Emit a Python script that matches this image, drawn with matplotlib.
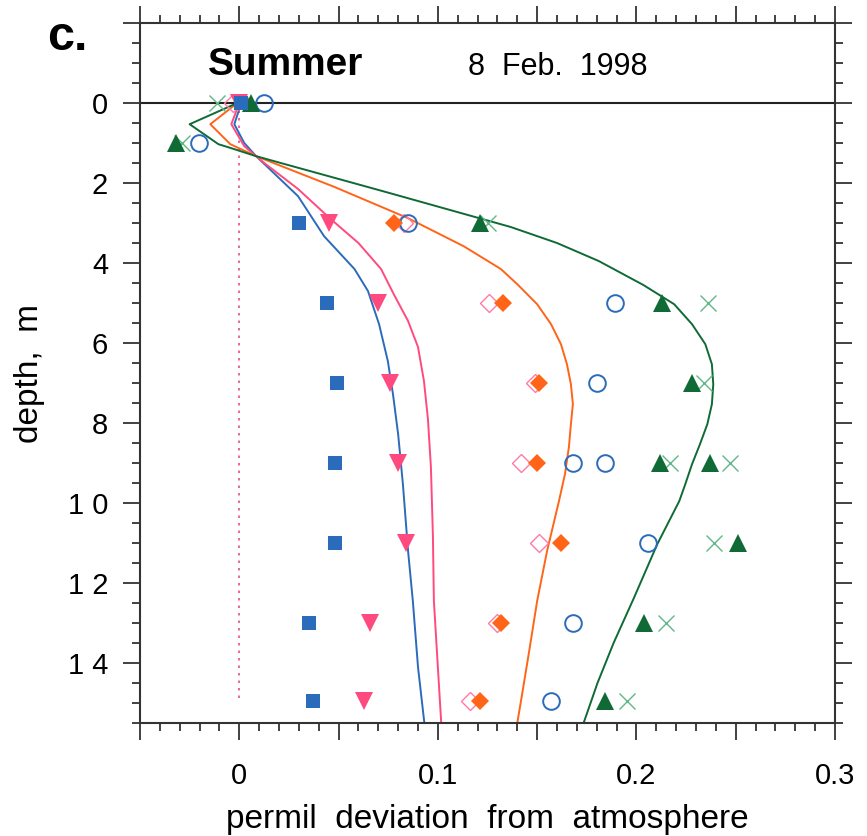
import matplotlib

matplotlib.use("Agg")
import matplotlib.pyplot as plt
from matplotlib.ticker import MultipleLocator

plt.rcParams["font.family"] = ["Liberation Sans", "DejaVu Sans"]

# observed profiles (depth in m, permil deviation)
sq_depth = [0, 3, 5, 7, 9, 11, 13, 14.95]
sq_val = [0.001, 0.030, 0.044, 0.049, 0.048, 0.048, 0.035, 0.037]

tri_dn_depth = [0, 3, 5, 7, 9, 11, 13, 14.95]
tri_dn_val = [0.000, 0.045, 0.070, 0.076, 0.080, 0.084, 0.066, 0.063]

dia_depth = [0, 3, 5, 7, 9, 11, 13, 14.95]
dia_val = [0.003, 0.078, 0.133, 0.151, 0.150, 0.162, 0.132, 0.121]

odia_depth = [0, 3, 5, 7, 9, 11, 13, 14.95]
odia_val = [-0.003, 0.083, 0.126, 0.149, 0.142, 0.151, 0.130, 0.116]

circ_depth = [0, 1, 3, 5, 7, 9, 9, 11, 13, 14.95]
circ_val = [0.0125, -0.0205, 0.085, 0.189, 0.180, 0.168, 0.184, 0.206, 0.168, 0.157]

tri_up_depth = [0, 1, 3, 5, 7, 9, 9, 11, 13, 14.95]
tri_up_val = [0.006, -0.032, 0.121, 0.213, 0.228, 0.212, 0.237, 0.251, 0.204, 0.184]

cross_depth = [0, 1, 3, 5, 7, 9, 9, 11, 13, 14.95]
cross_val = [-0.011, -0.029, 0.125, 0.236, 0.234, 0.217, 0.247, 0.239, 0.215, 0.195]

# model curves
blue_d = [0, 0.53, 1.0, 1.33, 2.33, 3.33, 4.15, 4.7, 5.53, 6.45, 7.28, 8.28, 9.53, 11.2, 12.45, 14.1, 15.5]
blue_x = [0.001, -0.0025, 0.0025, 0.0085, 0.0296, 0.0427, 0.058, 0.0648, 0.0704, 0.0748, 0.0774,
          0.080, 0.0824, 0.085, 0.0874, 0.090, 0.0932]

pink_d = [0, 0.53, 1.08, 1.5, 2.15, 2.9, 3.5, 4.15, 4.8, 5.45, 6.1, 6.95, 7.9, 9.1, 10.8, 12.45, 14.1, 15.5]
pink_x = [0.0, -0.004, 0.0025, 0.0126, 0.0296, 0.046, 0.060, 0.0714, 0.078, 0.085, 0.090, 0.093,
          0.095, 0.0965, 0.0975, 0.098, 0.100, 0.1017]

orange_d = [0, 0.53, 1.03, 1.33, 2.1, 2.88, 3.58, 4.15, 4.53, 5.03, 5.53, 6.03, 6.53, 7.03, 7.53, 8.03,
            8.6, 9.28, 9.95, 11.2, 12.45, 13.7, 14.7, 15.5]
orange_x = [-0.001, -0.0146, -0.0045, 0.0085, 0.048, 0.085, 0.113, 0.1317, 0.140, 0.150, 0.157, 0.162,
            0.165, 0.167, 0.168, 0.167, 0.166, 0.164, 0.161, 0.155, 0.150, 0.146, 0.1427, 0.140]

green_d = [0, 0.53, 1.03, 1.13, 1.33, 2.2, 3.1, 3.5, 3.95, 4.55, 5.03, 5.53, 6.03, 6.53, 7.03, 7.53, 8.03,
           8.53, 9.03, 9.53, 9.95, 11.03, 12.4, 13.5, 14.5, 15.5]
green_x = [-0.001, -0.025, -0.0105, -0.004, 0.0085, 0.072, 0.1367, 0.160, 0.181, 0.2035, 0.219, 0.228,
           0.2347, 0.238, 0.2387, 0.238, 0.2357, 0.232, 0.228, 0.2246, 0.2216, 0.2105, 0.1985, 0.1885,
           0.1804, 0.1734]

blue = "#2a6bbb"
pink = "#ff4a80"
light_pink = "#ff7aa6"
orange = "#ff6418"
dark_green = "#0f6a36"
light_green = "#5fb985"

fig = plt.figure(figsize=(8.67, 8.36), dpi=100)
ax = fig.add_axes([140 / 867, 1 - 723 / 836, 695 / 867, 700 / 836])

# zero reference lines
ax.axhline(0, color="#222222", lw=1.5, zorder=1, clip_on=False)
ax.plot([0, 0], [0, 14.9], color="#e0508c", lw=1.2, ls=(0, (1.5, 3)), zorder=1)

# model curves
ax.plot(blue_x, blue_d, color=blue, lw=1.4, zorder=2)
ax.plot(pink_x, pink_d, color=pink, lw=1.4, zorder=2)
ax.plot(orange_x, orange_d, color=orange, lw=1.4, zorder=2)
ax.plot(green_x, green_d, color=dark_green, lw=1.4, zorder=2)

# observations
ax.plot(cross_val, cross_depth, ls="none", marker="x", ms=12, mew=1.0, color=light_green, zorder=3)
ax.plot(odia_val, odia_depth, ls="none", marker="D", ms=9, mew=1.0, mfc="none", mec=light_pink, zorder=3)
ax.plot(circ_val, circ_depth, ls="none", marker="o", ms=12, mew=1.4, mfc="none", mec=blue, zorder=3)
ax.plot(dia_val, dia_depth, ls="none", marker="D", ms=9.5, color=orange, mew=0, zorder=4)
ax.plot(tri_up_val, tri_up_depth, ls="none", marker="^", ms=12.5, color=dark_green, mew=0, zorder=4)
ax.plot(tri_dn_val, tri_dn_depth, ls="none", marker="v", ms=12.5, color=pink, mew=0, zorder=4)
ax.plot(sq_val, sq_depth, ls="none", marker="s", ms=9.5, color=blue, mew=0, zorder=5)

ax.set_xlim(-0.05, 0.3)
ax.set_ylim(15.5, -2)

ax.xaxis.set_major_locator(MultipleLocator(0.05))
ax.xaxis.set_minor_locator(MultipleLocator(0.01))
ax.yaxis.set_major_locator(MultipleLocator(2))
ax.yaxis.set_minor_locator(MultipleLocator(0.5))

xlabels = {0.0: "0", 0.1: "0.1", 0.2: "0.2", 0.3: "0.3"}
ax.set_xticklabels([xlabels.get(round(v, 2), "") for v in ax.get_xticks()])
ylabels = {0: "0", 2: "2", 4: "4", 6: "6", 8: "8", 10: "1 0", 12: "1 2", 14: "1 4"}
ax.set_yticklabels([ylabels.get(int(round(v)), "") for v in ax.get_yticks()])

ax.tick_params(which="both", direction="out", top=True, right=True, width=1.3, color="#333333")
ax.tick_params(which="major", length=12)
ax.tick_params(which="minor", length=6)
ax.tick_params(axis="x", which="major", labelsize=21, pad=16)
ax.tick_params(axis="y", which="major", labelsize=21, pad=11)
for s in ax.spines.values():
    s.set_linewidth(1.5)
    s.set_color("#333333")

ax.set_xlabel("permil  deviation  from  atmosphere", fontsize=24, labelpad=10)
ax.set_ylabel("depth,  m", fontsize=24, labelpad=16)

ax.text(-0.0156, -0.7, "Summer", fontsize=28, fontweight="bold", ha="left", va="baseline")
ax.text(0.115, -0.7, "8  Feb.  1998", fontsize=22, ha="left", va="baseline")
fig.text(47 / 867, 1 - 50 / 836, "c.", fontsize=35, fontweight="bold", ha="left", va="baseline")

fig.savefig("out.png", dpi=100)
